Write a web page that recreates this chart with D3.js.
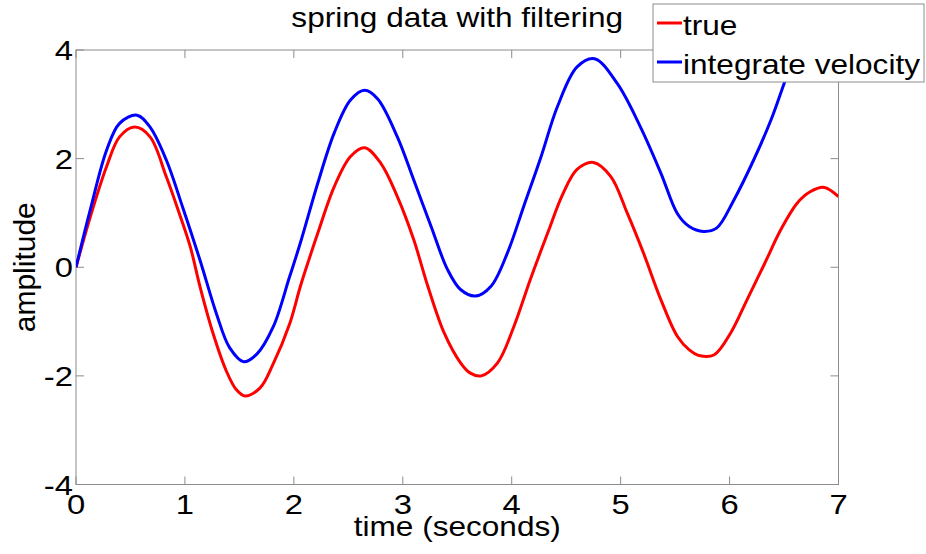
<!DOCTYPE html>
<html>
<head>
<meta charset="UTF-8">
<title>spring data with filtering</title>
<script src="https://d3js.org/d3.v7.min.js"></script>
<style>
  body { margin: 0; background: #fff; }
  text { font-family: "Liberation Sans", Arial, sans-serif; fill: #000; }
</style>
</head>
<body>
<div id="chart"></div>
<script>
// values
const timeTrue = [0, 0.13, 0.28, 0.40, 0.54, 0.68, 0.83, 0.95, 1.05, 1.14, 1.26, 1.38, 1.47, 1.55, 1.69, 1.81, 1.96, 2.06, 2.14, 2.22, 2.37, 2.52, 2.65, 2.80, 2.95, 3.10, 3.23, 3.38, 3.53, 3.62, 3.72, 3.87, 4.02, 4.17, 4.33, 4.47, 4.60, 4.75, 4.91, 5.06, 5.21, 5.37, 5.52, 5.63, 5.73, 5.86, 6.01, 6.16, 6.32, 6.47, 6.62, 6.74, 6.87, 7.0];
const valuesTrue = [0, 0.92, 1.85, 2.4, 2.58, 2.4, 1.66, 0.98, 0.37, -0.37, -1.23, -1.91, -2.25, -2.37, -2.22, -1.78, -1.05, -0.35, 0.15, 0.63, 1.48, 2.04, 2.2, 1.91, 1.30, 0.51, -0.35, -1.21, -1.76, -1.95, -2.0, -1.76, -1.09, -0.23, 0.63, 1.35, 1.8, 1.93, 1.67, 1.0, 0.26, -0.6, -1.27, -1.52, -1.63, -1.61, -1.21, -0.6, 0.06, 0.69, 1.18, 1.39, 1.47, 1.3];

const timeVel = [0, 0.13, 0.28, 0.40, 0.56, 0.68, 0.83, 0.98, 1.14, 1.29, 1.41, 1.54, 1.66, 1.81, 1.96, 2.06, 2.22, 2.37, 2.52, 2.65, 2.77, 2.95, 3.10, 3.26, 3.41, 3.53, 3.67, 3.81, 3.96, 4.11, 4.27, 4.42, 4.60, 4.76, 4.97, 5.18, 5.37, 5.52, 5.63, 5.76, 5.88, 6.04, 6.22, 6.38, 6.50, 6.62, 6.70];
const valuesVel = [0, 1.05, 2.15, 2.65, 2.8, 2.58, 1.97, 1.1, 0.12, -0.86, -1.48, -1.74, -1.6, -1.1, -0.18, 0.45, 1.55, 2.47, 3.08, 3.26, 3.1, 2.4, 1.61, 0.75, -0.04, -0.41, -0.53, -0.35, 0.26, 1.12, 2.04, 2.96, 3.69, 3.84, 3.38, 2.59, 1.73, 0.99, 0.75, 0.66, 0.72, 1.24, 1.97, 2.71, 3.38, 4.05, 4.4];

const xTicks = [0, 1, 2, 3, 4, 5, 6, 7];
const yTicks = [-4, -2, 0, 2, 4];
const seriesNames = ["true", "integrate velocity"];
const seriesColors = ["#ff0000", "#0000ff"];

const width = 926, height = 554;
const margin = {top: 50, right: 87.5, bottom: 69.5, left: 76};
const stretch = 1.17; // text in the picture is a bit wider than the font
const axisColor = "#8c8c8c";

const svg = d3.select("#chart").append("svg")
    .attr("width", width)
    .attr("height", height);

const x = d3.scaleLinear().domain([0, 7]).range([margin.left, width - margin.right]);
const y = d3.scaleLinear().domain([-4, 4]).range([height - margin.bottom, margin.top]);

svg.append("clipPath").attr("id", "plotclip")
    .append("rect")
    .attr("x", x(0)).attr("y", y(4))
    .attr("width", x(7) - x(0)).attr("height", y(-4) - y(4));

// ticks (inward, on all four sides like matlab's box)
const tickLen = 8;
const ticks = svg.append("g").attr("stroke", axisColor).attr("stroke-width", 1);
xTicks.forEach(t => {
    ticks.append("line").attr("x1", x(t)).attr("x2", x(t)).attr("y1", y(-4)).attr("y2", y(-4) - tickLen);
    ticks.append("line").attr("x1", x(t)).attr("x2", x(t)).attr("y1", y(4)).attr("y2", y(4) + tickLen);
});
yTicks.forEach(v => {
    ticks.append("line").attr("x1", x(0)).attr("x2", x(0) + tickLen).attr("y1", y(v)).attr("y2", y(v));
    ticks.append("line").attr("x1", x(7)).attr("x2", x(7) - tickLen).attr("y1", y(v)).attr("y2", y(v));
});

svg.append("rect")
    .attr("x", x(0)).attr("y", y(4))
    .attr("width", x(7) - x(0)).attr("height", y(-4) - y(4))
    .attr("fill", "none").attr("stroke", axisColor).attr("stroke-width", 1);

// tick labels
svg.append("g").selectAll("text").data(xTicks).enter().append("text")
    .attr("transform", d => "translate(" + x(d) + "," + (y(-4) + 29) + ") scale(" + stretch + ",1)")
    .attr("text-anchor", "middle")
    .style("font-size", "28px")
    .text(d => d);

svg.append("g").selectAll("text").data(yTicks).enter().append("text")
    .attr("transform", d => "translate(" + (x(0) - 3) + "," + (y(d) + 10) + ") scale(" + stretch + ",1)")
    .attr("text-anchor", "end")
    .style("font-size", "28px")
    .text(d => d);

// lines
const line = d3.line()
    .x(d => x(d[0]))
    .y(d => y(d[1]))
    .curve(d3.curveCatmullRom.alpha(0.5));

const series = [
    d3.zip(timeTrue, valuesTrue),
    d3.zip(timeVel, valuesVel)
];

svg.append("g").attr("clip-path", "url(#plotclip)")
    .selectAll("path").data(series).enter().append("path")
    .attr("d", line)
    .attr("fill", "none")
    .attr("stroke", (d, i) => seriesColors[i])
    .attr("stroke-width", 3)
    .attr("stroke-linejoin", "round");

// title and axis labels
svg.append("text")
    .attr("transform", "translate(" + ((x(0) + x(7)) / 2) + ",26.5) scale(" + stretch + ",1)")
    .attr("text-anchor", "middle")
    .style("font-size", "27px")
    .text("spring data with filtering");

svg.append("text")
    .attr("transform", "translate(" + ((x(0) + x(7)) / 2) + ",536) scale(" + stretch + ",1)")
    .attr("text-anchor", "middle")
    .style("font-size", "27px")
    .text("time (seconds)");

svg.append("text")
    .attr("transform", "translate(35," + y(0) + ") rotate(-90)")
    .attr("text-anchor", "middle")
    .style("font-size", "30px")
    .text("amplitude");

// legend
const legend = svg.append("g").attr("transform", "translate(653,4)");
legend.append("rect")
    .attr("width", 271).attr("height", 78)
    .attr("fill", "#fff").attr("stroke", axisColor).attr("stroke-width", 1);

seriesNames.forEach((name, i) => {
    const cy = 19 + i * 39;
    legend.append("line")
        .attr("x1", 4).attr("x2", 29).attr("y1", cy).attr("y2", cy)
        .attr("stroke", seriesColors[i]).attr("stroke-width", 3);
    legend.append("text")
        .attr("transform", "translate(30," + (cy + 12) + ") scale(" + stretch + ",1)")
        .style("font-size", "27px")
        .text(name);
});
</script>
</body>
</html>
